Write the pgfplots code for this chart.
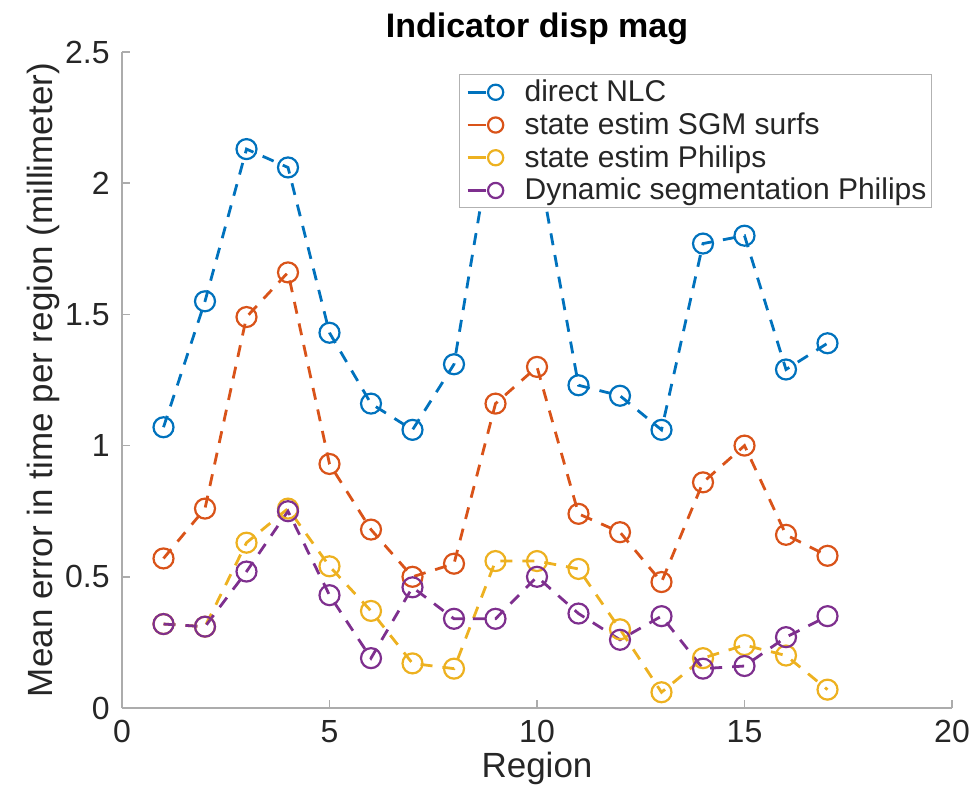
\documentclass[border=0pt]{standalone}
\usepackage{fontspec}
\setmainfont{Liberation Sans}
\usepackage{pgfplots}
\pgfplotsset{compat=1.18}
\definecolor{mblue}{rgb}{0,0.447,0.741}
\definecolor{morange}{rgb}{0.85,0.325,0.098}
\definecolor{myellow}{rgb}{0.929,0.694,0.125}
\definecolor{mpurple}{rgb}{0.494,0.184,0.556}
\definecolor{txt}{gray}{0.15}
\begin{document}
\begin{tikzpicture}
\begin{axis}[
  scale only axis,
  width=415pt, height=328pt,
  xmin=0, xmax=20, ymin=0, ymax=2.5,
  xtick={0,5,10,15,20},
  ytick={0,0.5,1,1.5,2,2.5},
  axis lines=left,
  axis line style={-, gray!65, line width=0.8pt},
  tick style={gray!65, line width=0.8pt},
  tick align=inside,
  major tick length=4pt,
  /pgf/number format/assume math mode=true,
  tick label style={font=\fontsize{16}{18}\selectfont, text=txt},
  yticklabel style={inner sep=0pt, anchor=east, xshift=-6pt},
  xticklabel style={inner sep=0pt, anchor=north, yshift=-6pt},
  xlabel={Region},
  ylabel={Mean error in time per region (millimeter)},
  xlabel style={font=\fontsize{17.5}{20}\selectfont, text=txt, at={(axis description cs:0.5,0)}, anchor=base, yshift=-34.5pt},
  ylabel style={font=\fontsize{17.5}{20}\selectfont, text=txt, at={([xshift=-34.5pt]axis description cs:0,0.5)}, anchor=base, rotate=0},
  title={\textbf{Indicator disp mag}},
  title style={font=\fontsize{17}{20}\selectfont, at={(axis description cs:0.5,1)}, anchor=base, yshift=1pt},
  legend style={at={(0.976,0.966)}, anchor=north east, font=\fontsize{15}{17}\selectfont, draw=gray!60, line width=0.6pt, inner sep=1pt, row sep=1pt, text=txt, nodes={inner sep=1.5pt}},
  legend cell align=left,
  legend image code/.code={
    \path[draw=none, fill=none] (0pt,-4pt) rectangle (30pt,4pt);
    \draw[#1, solid] (3pt,0pt) -- (12pt,0pt);
    \draw[#1, solid, only marks, mark size=3.8pt] plot coordinates {(17pt,0pt)};
  },
  every axis plot/.append style={dashed, dash pattern=on 6pt off 5pt, line width=1.4pt, mark=o, mark size=5pt, mark options={solid, line width=1.1pt}},
]
\addplot[mblue] coordinates {(1,1.07) (2,1.55) (3,2.13) (4,2.06) (5,1.43) (6,1.16) (7,1.06) (8,1.31) (9,2.25) (10,2.1) (11,1.23) (12,1.19) (13,1.06) (14,1.77) (15,1.80) (16,1.29) (17,1.39)};
\addlegendentry{direct NLC}
\addplot[morange] coordinates {(1,0.57) (2,0.76) (3,1.49) (4,1.66) (5,0.93) (6,0.68) (7,0.50) (8,0.55) (9,1.16) (10,1.30) (11,0.74) (12,0.67) (13,0.48) (14,0.86) (15,1.00) (16,0.66) (17,0.58)};
\addlegendentry{state estim SGM surfs}
\addplot[myellow] coordinates {(1,0.32) (2,0.31) (3,0.63) (4,0.76) (5,0.54) (6,0.37) (7,0.17) (8,0.15) (9,0.56) (10,0.56) (11,0.53) (12,0.30) (13,0.06) (14,0.19) (15,0.24) (16,0.20) (17,0.07)};
\addlegendentry{state estim Philips}
\addplot[mpurple] coordinates {(1,0.32) (2,0.31) (3,0.52) (4,0.75) (5,0.43) (6,0.19) (7,0.46) (8,0.34) (9,0.34) (10,0.50) (11,0.36) (12,0.26) (13,0.35) (14,0.15) (15,0.16) (16,0.27) (17,0.35)};
\addlegendentry{Dynamic segmentation Philips}
\coordinate (ll) at (rel axis cs:0,0);
\coordinate (ur) at (rel axis cs:1,1);
\end{axis}
\pgfresetboundingbox
\path[use as bounding box] ([shift={(-61pt,-42.5pt)}]ll) rectangle ([shift={(12.5pt,26pt)}]ur);
\end{tikzpicture}
\end{document}
